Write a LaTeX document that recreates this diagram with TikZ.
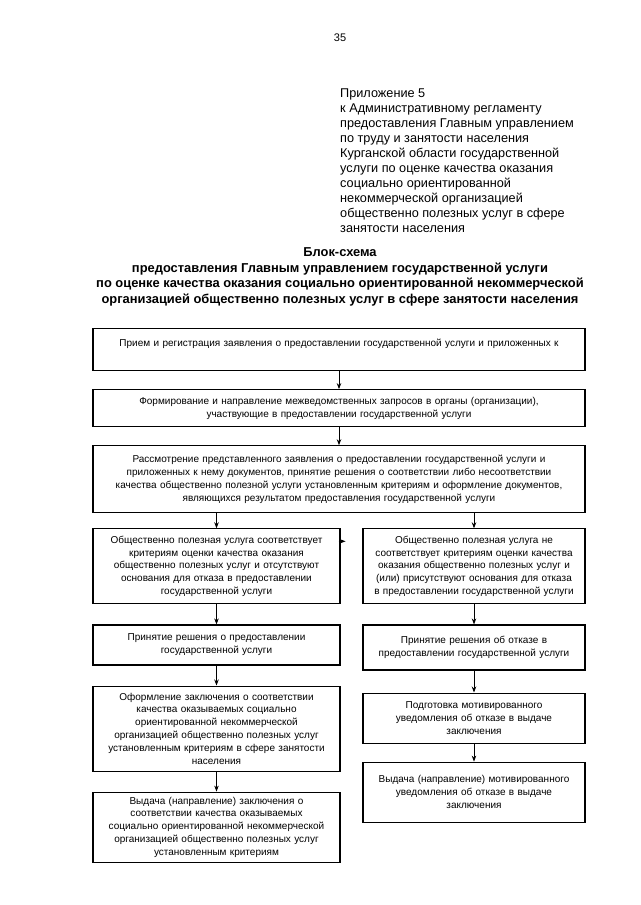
\documentclass[tikz,border=0pt]{standalone}
\usepackage{fontspec}
\setmainfont{Liberation Sans}
\usetikzlibrary{positioning,arrows.meta}

\begin{document}
\begin{tikzpicture}[x=1pt, y=1pt, node distance=20pt, >={Stealth[length=6pt, width=4.5pt]},
        blok/.style={rectangle, draw, line width=1.1pt, align=center, inner xsep=2pt, inner ysep=0pt, font=\fontsize{10}{12.8}\selectfont},
        shirokij/.style={blok, text width=488pt},
        levyj/.style={blok, text width=243pt},
        pravyj/.style={blok, text width=218pt},
        strelka/.style={->, line width=0.8pt}]
            \useasboundingbox (0,0) rectangle (640,-905);
            \node[font=\fontsize{11}{13}\selectfont] (nomer) at (340,-38) {35};
            \node[anchor=north west, align=left, inner sep=0pt, font=\fontsize{12.7}{14.9}\selectfont] (prilozhenie) at (340,-89) {Приложение 5\\ к Административному регламенту\\ предоставления Главным управлением\\ по труду и занятости населения\\ Курганской области государственной\\ услуги по оценке качества оказания\\ социально ориентированной\\ некоммерческой организацией\\ общественно полезных услуг в сфере\\ занятости населения};
            \node[align=center, inner sep=0pt, font=\bfseries\fontsize{12.9}{15.6}\selectfont] (zagolovok) at (340,-277) {Блок-схема\\ предоставления Главным управлением государственной услуги\\ по оценке качества оказания социально ориентированной некоммерческой\\ организацией общественно полезных услуг в сфере занятости населения};

            \node[shirokij, minimum height=42pt, anchor=north] (priem) at (339,-328) {Прием и регистрация заявления о предоставлении государственной услуги и приложенных к\\ \mbox{}};
            \node[shirokij, minimum height=37pt, below=18pt of priem] (zaprosy) {Формирование и направление межведомственных запросов в органы (организации),\\ участвующие в предоставлении государственной услуги};
            \node[shirokij, minimum height=67pt, below=18pt of zaprosy] (rassmotrenie) {Рассмотрение представленного заявления о предоставлении государственной услуги и\\ приложенных к нему документов, принятие решения о соответствии либо несоответствии\\ качества общественно полезной услуги установленным критериям и оформление документов,\\ являющихся результатом предоставления государственной услуги};

            \node[levyj, minimum height=75pt, below=15pt of rassmotrenie.south west, anchor=north west] (sootv) {Общественно полезная услуга соответствует\\ критериям оценки качества оказания\\ общественно полезных услуг и отсутствуют\\ основания для отказа в предоставлении\\ государственной услуги};
            \node[pravyj, minimum height=75pt, below=15pt of rassmotrenie.south east, anchor=north east] (nesootv) {Общественно полезная услуга не\\ соответствует критериям оценки качества\\ оказания общественно полезных услуг и\\ (или) присутствуют основания для отказа\\ в предоставлении государственной услуги};

            \node[levyj, minimum height=40pt, below=20pt of sootv] (reshenie) {Принятие решения о предоставлении\\ государственной услуги};
            \node[levyj, minimum height=85pt, below=20pt of reshenie] (oformlenie) {Оформление заключения о соответствии\\ качества оказываемых социально\\ ориентированной некоммерческой\\ организацией общественно полезных услуг\\ установленным критериям в сфере занятости\\ населения};
            \node[levyj, minimum height=70pt, below=20pt of oformlenie] (vydacha) {Выдача (направление) заключения о\\ соответствии качества оказываемых\\ социально ориентированной некоммерческой\\ организацией общественно полезных услуг\\ установленным критериям};

            \node[pravyj, minimum height=45pt, below=20pt of nesootv] (otkaz) {Принятие решения об отказе в\\ предоставлении государственной услуги};
            \node[pravyj, minimum height=50pt, below=22pt of otkaz] (podgotovka) {Подготовка мотивированного\\ уведомления об отказе в выдаче\\ заключения};
            \node[pravyj, minimum height=60pt, below=18pt of podgotovka] (uvedomlenie) {Выдача (направление) мотивированного\\ уведомления об отказе в выдаче\\ заключения};

            % strelki
            \draw[strelka] (priem) -- (zaprosy);
            \draw[strelka] (zaprosy) -- (rassmotrenie);
            \draw[strelka] (rassmotrenie.south -| sootv.north) -- (sootv.north);
            \draw[strelka] (rassmotrenie.south -| nesootv.north) -- (nesootv.north);
            \draw[strelka] (sootv) -- (reshenie);
            \draw[strelka] (reshenie) -- (oformlenie);
            \draw[strelka] (oformlenie) -- (vydacha);
            \draw[strelka] (nesootv) -- (otkaz);
            \draw[strelka] (otkaz) -- (podgotovka);
            \draw[strelka] (podgotovka) -- (uvedomlenie);

            \coordinate (hvost) at ([xshift=-2pt, yshift=-13pt]sootv.north east);
            \coordinate (ostrie) at ([xshift=5pt, yshift=-13pt]sootv.north east);
            \draw[strelka] (hvost) -- (ostrie);
        \end{tikzpicture}
\end{document}
